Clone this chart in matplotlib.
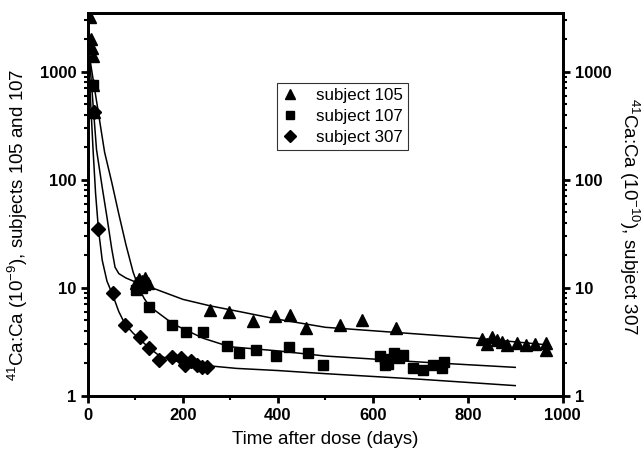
import numpy as np
import matplotlib
matplotlib.use("Agg")
import matplotlib.pyplot as plt
from matplotlib.ticker import LogLocator, MultipleLocator, NullFormatter

plt.rcParams['font.family'] = ['Liberation Sans', 'DejaVu Sans']
plt.rcParams['mathtext.default'] = 'regular'

# measured points (days, ratio)
day_105 = [5, 7, 9, 10, 11, 12, 102, 108, 114, 120, 126, 256, 298, 348, 395, 426, 459,
           531, 578, 649, 831, 841, 852, 862, 872, 882, 903, 923, 942, 965, 965]
val_105 = [3200, 2000, 1650, 1400, 750, 420, 11.0, 12.0, 11.5, 12.2, 11.0, 6.2, 6.0, 4.9, 5.5, 5.6, 4.2,
           4.5, 5.0, 4.2, 3.33, 3.0, 3.5, 3.3, 3.15, 2.95, 3.1, 2.95, 3.0, 3.05, 2.65]

day_107 = [10, 102, 108, 114, 120, 129, 178, 206, 242, 292, 319, 354, 396, 423, 464, 494,
           615, 626, 626, 633, 645, 656, 664, 685, 705, 726, 745, 750]
val_107 = [750, 9.5, 10.2, 10.0, 10.5, 6.6, 4.55, 3.85, 3.9, 2.9, 2.47, 2.65, 2.33, 2.8, 2.5, 1.92,
           2.33, 2.2, 1.92, 1.95, 2.47, 2.25, 2.38, 1.82, 1.73, 1.92, 1.82, 2.06]

day_307 = [12, 22, 52, 79, 110, 128, 150, 176, 197, 204, 216, 229, 240, 250]
val_307 = [420, 35, 8.85, 4.55, 3.5, 2.78, 2.14, 2.27, 2.22, 1.92, 2.1, 1.92, 1.85, 1.85]

# fitted curves
fit_day_105 = [1, 18, 30, 40, 50, 57, 65, 80, 100, 137, 200, 257, 320, 400, 500, 650, 820, 970]
fit_val_105 = [1800, 190, 85, 45, 23, 15.5, 13.5, 12.3, 11.3, 9.9, 7.8, 6.8, 6.0, 5.1, 4.3, 3.85, 3.4, 2.95]

fit_day_107 = [1, 35, 50, 65, 80, 95, 105, 118, 130, 180, 243, 299, 400, 500, 700, 900]
fit_val_107 = [1600, 180, 95, 48, 25, 14, 10.5, 8.0, 6.7, 4.6, 3.4, 2.84, 2.6, 2.33, 2.05, 1.83]

fit_day_307 = [1, 11, 16, 22, 30, 40, 52, 65, 78, 95, 110, 130, 150, 175, 200, 250, 313, 400, 500, 700, 900]
fit_val_307 = [1300, 180, 75, 35, 18, 11.5, 8.6, 6.0, 4.6, 3.8, 3.3, 2.75, 2.35, 2.15, 2.02, 1.9, 1.79,
               1.71, 1.6, 1.42, 1.24]

fig = plt.figure(figsize=(6.44, 4.59), dpi=100)
ax = fig.add_axes([0.1366, 0.1379, 0.7372, 0.8338])

ax.plot(fit_day_105, fit_val_105, 'k-', lw=1.1)
ax.plot(fit_day_107, fit_val_107, 'k-', lw=1.1)
ax.plot(fit_day_307, fit_val_307, 'k-', lw=1.1)

ax.plot(day_105, val_105, 'k^', ms=9, ls='none', label='subject 105')
ax.plot(day_107, val_107, 'ks', ms=7, ls='none', label='subject 107')
ax.plot(day_307, val_307, 'kD', ms=7, ls='none', label='subject 307')

ax.set_yscale('log')
ax.set_xlim(0, 1000)
ax.set_ylim(1, 3500)

ax.xaxis.set_major_locator(MultipleLocator(200))
ax.xaxis.set_minor_locator(MultipleLocator(100))
ax.set_yticks([1, 10, 100, 1000])
ax.set_yticklabels(['1', '10', '100', '1000'])
ax.yaxis.set_minor_locator(LogLocator(base=10, subs=np.arange(2, 10)))
ax.yaxis.set_minor_formatter(NullFormatter())

for s in ax.spines.values():
    s.set_linewidth(2)
ax.tick_params(which='major', direction='out', length=5, width=2, labelsize=12)
ax.tick_params(which='minor', direction='out', length=3, width=1.5)
for t in ax.get_xticklabels() + ax.get_yticklabels():
    t.set_fontweight('bold')

ax.set_xlabel('Time after dose (days)', fontsize=13.5, labelpad=6)
ax.set_ylabel(r'$^{41}$Ca:Ca (10$^{-9}$), subjects 105 and 107', fontsize=13.5)
ax.yaxis.set_label_coords(-0.122, 0.446)

ax2 = ax.twinx()
ax2.set_yscale('log')
ax2.set_ylim(1, 3500)
ax2.set_yticks([1, 10, 100, 1000])
ax2.set_yticklabels(['1', '10', '100', '1000'])
ax2.yaxis.set_minor_locator(LogLocator(base=10, subs=np.arange(2, 10)))
ax2.yaxis.set_minor_formatter(NullFormatter())
ax2.tick_params(which='major', direction='out', length=5, width=2, labelsize=12)
ax2.tick_params(which='minor', direction='out', length=3, width=1.5)
for t in ax2.get_yticklabels():
    t.set_fontweight('bold')
for s in ax2.spines.values():
    s.set_linewidth(2)
ax2.set_ylabel(r'$^{41}$Ca:Ca (10$^{-10}$), subject 307', fontsize=13.5, rotation=270)
ax2.yaxis.set_label_coords(1.165, 0.467)

leg = ax.legend(loc='upper left', bbox_to_anchor=(0.398, 0.817), fontsize=12.2,
                frameon=True, fancybox=False, edgecolor='black', handlelength=1.0,
                handletextpad=1.0, borderpad=0.3, labelspacing=0.35, borderaxespad=0,
                markerscale=0.85)
leg.get_frame().set_linewidth(0.8)

fig.savefig('out.png', dpi=100)
